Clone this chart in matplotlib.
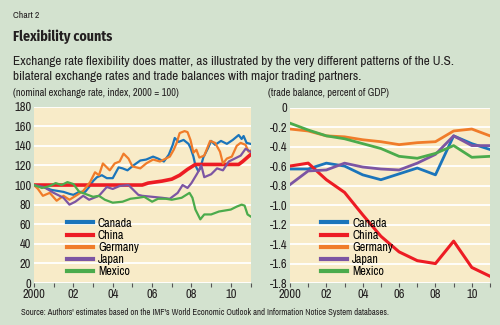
import matplotlib
matplotlib.use("Agg")
from matplotlib import pyplot as plt

plt.rcParams["font.family"] = ["Archivo Narrow", "DejaVu Sans"]

# ---- left panel: nominal exchange rate index (2000 = 100)
can_x = [2000.0, 2000.3, 2000.6, 2000.9, 2001.2, 2001.5, 2001.8, 2002.0, 2002.3, 2002.6, 2002.8,
         2003.0, 2003.2, 2003.45, 2003.7, 2004.0, 2004.3, 2004.5, 2004.75, 2005.05, 2005.4, 2005.7,
         2006.05, 2006.3, 2006.6, 2006.85, 2007.05, 2007.15, 2007.35, 2007.6, 2007.85, 2007.95,
         2008.1, 2008.2, 2008.35, 2008.45, 2008.6, 2008.85, 2009.0, 2009.2, 2009.5, 2009.8,
         2010.1, 2010.4, 2010.55, 2010.65, 2010.8, 2011.0]
can_y = [100, 99, 97, 95, 94, 93, 91, 90, 93, 93, 98,
         104, 108, 110, 107, 107, 118, 117, 115, 120, 125, 126,
         129, 127, 124, 131, 141, 148, 144, 146, 142, 138,
         129, 120, 114, 117, 128, 138, 145, 141, 145, 142,
         146, 151, 147, 150, 143, 142]

chn_x = [2000.0, 2005.5, 2005.8, 2006.5, 2007.0, 2007.4, 2007.8, 2008.2, 2008.5, 2010.4, 2010.6, 2011.0]
chn_y = [100, 100, 102, 104, 106, 110, 116, 121, 121, 121, 124, 131]

ger_x = [2000.0, 2000.2, 2000.45, 2000.8, 2001.15, 2001.5, 2001.8, 2002.2, 2002.5, 2002.85,
         2003.1, 2003.3, 2003.5, 2003.85, 2004.1, 2004.35, 2004.55, 2004.8, 2005.0, 2005.4,
         2005.7, 2006.05, 2006.4, 2006.9, 2007.1, 2007.25, 2007.4, 2007.65, 2007.8, 2007.95,
         2008.1, 2008.25, 2008.4, 2008.65, 2008.95, 2009.2, 2009.45, 2009.6, 2009.8, 2010.05,
         2010.3, 2010.5, 2010.75, 2010.9, 2011.0]
ger_y = [100, 96, 89, 92, 84, 89, 85, 90, 94, 103,
         113, 110, 122, 115, 122, 124, 132, 127, 119, 117,
         122, 126, 124, 129, 136, 143, 153, 155, 154, 146,
         133, 136, 128, 130, 145, 143, 134, 122, 127, 129,
         140, 143, 141, 134, 135]

jpn_x = [2000.0, 2000.5, 2001.0, 2001.5, 2001.8, 2002.1, 2002.5, 2002.8, 2003.3, 2003.7,
         2004.0, 2004.35, 2004.8, 2005.0, 2005.3, 2005.5, 2006.0, 2006.5, 2006.9, 2007.3,
         2007.55, 2007.8, 2008.0, 2008.3, 2008.5, 2008.65, 2009.0, 2009.3, 2009.6, 2009.9,
         2010.2, 2010.5, 2010.75, 2011.0]
jpn_y = [100, 98, 92, 87, 80, 83, 89, 85, 89, 98,
         96, 99, 100, 96, 90, 89, 88, 87, 86, 92,
         100, 97, 102, 112, 120, 108, 111, 117, 115, 124,
         127, 130, 137, 134]

mex_x = [2000.0, 2000.4, 2000.8, 2001.1, 2001.4, 2001.7, 2002.0, 2002.3, 2002.6, 2003.0,
         2003.3, 2003.6, 2004.0, 2004.5, 2004.9, 2005.3, 2005.6, 2006.0, 2006.3, 2006.7,
         2007.0, 2007.5, 2007.9, 2008.05, 2008.2, 2008.45, 2008.65, 2009.0, 2009.4, 2009.7,
         2010.0, 2010.3, 2010.55, 2010.7, 2010.85, 2011.0]
mex_y = [100, 97, 99, 102, 100, 103, 101, 93, 91, 88,
         89, 85, 82, 83, 86, 87, 88, 83, 86, 86,
         85, 87, 92, 87, 75, 65, 70, 70, 73, 74,
         75, 78, 80, 79, 70, 68]

# ---- right panel: trade balance, percent of GDP (annual)
years = list(range(2000, 2012))
tb_can = [-0.63, -0.63, -0.57, -0.60, -0.69, -0.74, -0.68, -0.62, -0.69, -0.29, -0.37, -0.43]
tb_chn = [-0.60, -0.57, -0.74, -0.87, -1.10, -1.32, -1.48, -1.57, -1.60, -1.37, -1.64, -1.73]
tb_ger = [-0.22, -0.24, -0.29, -0.30, -0.33, -0.35, -0.38, -0.36, -0.35, -0.24, -0.22, -0.29]
tb_jpn = [-0.79, -0.65, -0.64, -0.57, -0.61, -0.63, -0.64, -0.57, -0.48, -0.29, -0.39, -0.39]
tb_mex = [-0.16, -0.23, -0.29, -0.32, -0.37, -0.42, -0.50, -0.52, -0.47, -0.39, -0.51, -0.50]

countries = ["Canada", "China", "Germany", "Japan", "Mexico"]
colors = ["#1b75bb", "#ed1c24", "#f07c2a", "#7c55a3", "#4bab4c"]

bg = "#d3e2cf"
face = "#f8ebc8"
txt = "#231f20"

fig = plt.figure(figsize=(5, 3.25), dpi=100, facecolor=bg)

fig.text(0.026, 0.945, "Chart 2", fontsize=7, color=txt)
fig.text(0.026, 0.873, "Flexibility counts", fontsize=10, fontweight="bold", color=txt,
         family=["Fira Sans Condensed", "DejaVu Sans"])
fig.text(0.026, 0.800, "Exchange rate flexibility does matter, as illustrated by the very different patterns of the U.S.",
         fontsize=9.6, color=txt)
fig.text(0.026, 0.753, "bilateral exchange rates and trade balances with major trading partners.",
         fontsize=9.6, color=txt)
fig.text(0.026, 0.706, "(nominal exchange rate, index, 2000 = 100)", fontsize=7.5, color=txt)
fig.text(0.535, 0.706, "(trade balance, percent of GDP)", fontsize=7.5, color=txt)
fig.text(0.042, 0.032, "Source: Authors' estimates based on the IMF's World Economic Outlook and Information Notice System databases.",
         fontsize=6.3, color=txt)

ax1 = fig.add_axes([0.068, 0.129, 0.433, 0.543])
ax2 = fig.add_axes([0.580, 0.129, 0.400, 0.540])

ax1.plot(can_x, can_y, color=colors[0], lw=1.6, label="Canada")
ax1.plot(chn_x, chn_y, color=colors[1], lw=2.6, label="China")
ax1.plot(ger_x, ger_y, color=colors[2], lw=1.6, label="Germany")
ax1.plot(jpn_x, jpn_y, color=colors[3], lw=1.6, label="Japan")
ax1.plot(mex_x, mex_y, color=colors[4], lw=1.6, label="Mexico")
ax1.set_ylim(0, 180)
ax1.set_yticks(range(0, 181, 20))

tb = [tb_can, tb_chn, tb_ger, tb_jpn, tb_mex]
for vals, c, name in zip(tb, colors, countries):
    ax2.plot(years, vals, color=c, lw=2.0 if name != "China" else 2.2, label=name)
ax2.set_ylim(-1.8, 0)
ax2.set_yticks([-1.8, -1.6, -1.4, -1.2, -1.0, -0.8, -0.6, -0.4, -0.2, 0])
ax2.set_yticklabels(["-1.8", "-1.6", "-1.4", "-1.2", "-1.0", "-0.8", "-0.6", "-0.4", "-0.2", "0"])

for ax in (ax1, ax2):
    ax.set_facecolor(face)
    ax.set_xlim(2000, 2011)
    ax.set_xticks(range(2000, 2012))
    ax.set_xticklabels(["2000" if y == 2000 else ("%02d" % (y % 100) if y % 2 == 0 else "") for y in range(2000, 2012)])
    for s in ax.spines.values():
        s.set_visible(False)
    ax.grid(axis="y", color="white", lw=1.3)
    ax.set_axisbelow(True)
    ax.tick_params(axis="y", length=0, labelsize=9, labelcolor=txt, pad=2)
    ax.tick_params(axis="x", length=3, width=0.8, color="#555555", direction="out",
                   labelsize=9, labelcolor=txt, pad=1.5)
    leg = ax.legend(loc="lower left", bbox_to_anchor=(0.1, -0.03), frameon=False, fontsize=8.7,
                    handlelength=2.2, handletextpad=0.4, labelspacing=0.1)
    for h in leg.get_lines():
        h.set_linewidth(3)

fig.savefig("out.png", dpi=100, facecolor=bg)
